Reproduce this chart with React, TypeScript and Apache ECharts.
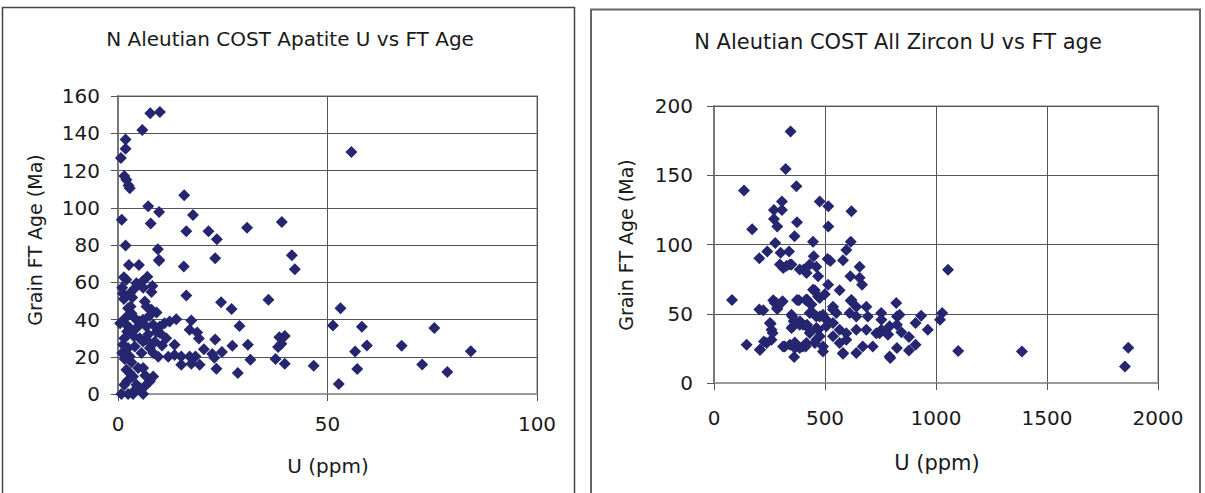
import React, { useEffect, useRef } from "react";
import * as echarts from "echarts";

// ---- Apatite: U (ppm) vs grain FT age (Ma)
const apatiteU = [
  7.7, 10.0, 5.8, 1.8, 1.8, 0.7, 1.5, 2.0, 2.5, 2.8, 15.8, 7.2, 9.8, 0.9, 7.8, 17.9, 16.3, 21.6, 23.6, 23.2,
  1.8, 9.5, 9.8, 15.7, 2.6, 5.0, 9.8, 16.3, 8.0,
  30.8, 39.1, 41.5, 42.2, 24.6, 27.1, 35.9, 53.1, 29.0, 51.3, 23.2, 27.3, 31.0, 38.5, 39.8, 39.0, 38.2,
  20.5, 22.5, 23.0, 24.8, 23.5, 28.6, 31.6, 37.6, 39.8, 46.7, 52.7, 55.7, 58.2, 75.5, 56.6, 59.4, 67.7,
  84.2, 57.1, 72.6, 78.6,
  1.4, 2.0, 4.4, 5.8, 1.2, 2.8, 4.0, 1.4, 3.4, 6.4, 6.8, 2.4, 3.2, 8.0, 9.2, 4.0, 5.2, 6.0, 2.0, 2.8,
  4.4, 6.8, 8.4, 10.0, 11.1, 12.3, 13.9, 17.5, 2.2, 9.2, 10.0, 17.1, 18.9, 5.2, 6.0, 6.8, 1.2, 2.4, 4.0,
  7.6, 8.4, 13.5, 13.5, 15.1, 17.1, 18.5, 15.1, 17.5, 19.5, 1.6, 2.8, 2.0, 2.8, 3.6, 6.0, 8.4, 7.6, 6.4,
  4.4, 5.2, 0.8, 2.4, 3.6, 6.0, 19.3,
  1.0, 3.0, 1.8, 3.8, 5.6, 4.8, 3.2, 7.2, 8.8, 9.6, 1.5, 6.5, 2.2, 4.0, 7.5, 10.5, 11.5, 12.0, 1.0, 6.0,
  7.0, 8.2, 0.5, 1.5,
];
const apatiteAge = [
  150.7, 151.4, 141.7, 136.7, 131.7, 126.7, 117, 115, 112, 110.5, 106.7, 100.8, 97.7, 93.5, 91.5, 96.1, 87.4, 87.4, 83.1, 72.9,
  79.7, 77.7, 72, 68.4, 69.2, 69.2, 71.5, 52.9, 54.7,
  89.3, 92.4, 74.5, 67, 49.3, 45.7, 50.6, 46.1, 36.5, 36.8, 29.3, 25.9, 26.4, 30.5, 31.2, 27, 25.2,
  24, 21.5, 19.5, 22.5, 13.6, 11.3, 18.4, 18.8, 16.2, 15.2, 5.4, 130, 36.1, 35.5, 22.8, 26.1, 25.9,
  23, 13.4, 15.9, 11.8,
  62.7, 61.3, 59.5, 60.4, 54, 54, 56.8, 51, 51.8, 49.7, 47, 46, 43.4, 45.2, 43.8, 40.7, 38.9, 39.8, 37.2, 35.4,
  35.4, 36.2, 37.2, 36.2, 38, 38.9, 40.2, 39.5, 33.6, 33.3, 32.7, 34.5, 33, 30, 28.2, 29.1, 26.4, 24.7, 25.5,
  24.7, 22, 26.4, 21, 20.2, 20.2, 20.2, 15.7, 16.2, 15.7, 18.8, 20.2, 13, 11.3, 9.4, 13.9, 9.4, 6.8, 4.1,
  5, 3.2, 0, 0, 0, 0, 29.8,
  57, 47, 41, 31, 22, 14, 17, 32, 28, 20, 30, 10, 7, 2, 42, 26, 30, 20, 22, 57,
  63, 58, 38, 5,
];

// ---- Zircon: U (ppm) vs grain FT age (Ma)
const zirconU = [
  345, 323, 135, 371, 476, 515, 619, 306, 270, 306, 270, 285, 374, 515, 172, 363, 276, 446, 616, 596,
  240, 204, 300, 338, 449, 512, 524, 581, 297, 312, 342, 404, 431, 461, 656, 417, 469, 614, 656, 667,
  514, 566, 454, 469, 499, 476, 81, 267, 279, 309, 374, 413, 428, 619, 641, 686, 204, 222, 285, 353,
  387, 446, 476, 506, 536, 551, 611, 641, 693, 753, 252, 259, 356, 401, 416, 469, 506, 536, 566, 596,
  641, 686, 731, 147, 207, 237, 259, 319, 364, 401, 416, 361, 461, 491, 476, 536, 566, 596, 581, 641,
  670, 715, 746, 783, 791, 821, 824, 824, 1054, 1028, 1018, 836, 933, 908, 963, 754, 754, 784, 844, 878,
  908, 878, 794, 1100, 1387, 1866, 1851, 327, 349, 386, 536, 616, 431, 461, 491, 791, 824, 491, 581,
  274, 304, 284, 383, 419, 439, 446, 349, 359, 386, 419, 349, 255, 264, 225, 207, 311, 342, 364, 386,
  413, 431, 461, 454,
];
const zirconAge = [
  181.5, 154.6, 139, 142, 131, 127.6, 124, 131, 125, 125, 118.5, 113, 116, 113, 111, 106, 101, 102, 102, 96,
  95, 90, 94, 95, 91.5, 89.6, 88, 88.6, 85.5, 83, 85.5, 82, 85.5, 84, 84, 79.5, 77, 77, 76, 71,
  71, 67, 67, 62.5, 64, 61.4, 60, 59.7, 58, 59, 60, 60, 58, 60, 55, 55, 53, 52.5, 53.5, 48,
  44.5, 50.6, 48, 45.7, 53, 50.6, 50.6, 48, 48, 50.6, 43.3, 38.5, 41, 42, 41, 38.5, 41, 43.3, 38.5, 36,
  38.5, 38.5, 36, 27.7, 24, 28.9, 31.3, 26.4, 25.3, 26.4, 28.9, 18.8, 31.3, 26.4, 33.7, 33.7, 28.9, 31.3, 21.2, 21.7,
  26.4, 26.4, 36, 35, 19.2, 57.8, 48.1, 25.3, 81.8, 50.6, 45.7, 49.3, 48.6, 43.3, 38.5, 45.7, 38.5, 35, 36.6, 33.2,
  27.7, 23.5, 18, 23.1, 22.8, 25.5, 12, 84.7, 85.5, 82, 55, 59.4, 50.6, 48, 49.3, 41, 42, 22.8, 21.7,
  57.8, 58.2, 54.2, 59.7, 60.2, 56.6, 67.4, 49.3, 44.5, 42.1, 42.1, 39.7, 42.8, 36.1, 30, 24, 26.4, 27.7, 29.3, 25.3,
  26.4, 36.1, 39.7, 28.9,
];

const leftTitle = "N Aleutian COST Apatite U vs FT Age";
const rightTitle = "N Aleutian COST All Zircon U vs FT age";
const yName = "Grain FT Age (Ma)";
const xName = "U (ppm)";

const FONT = "DejaVu Sans";
const MARK = "#25266f";

function pairs(xs: number[], ys: number[]) {
  return xs.map((x, i) => [x, ys[i]]);
}

function txt(x: number, y: number, text: string, size: number, rotation = 0) {
  return {
    type: "text",
    x,
    y,
    rotation,
    style: {
      text,
      fill: "#1a1a1a",
      font: `${size}px "${FONT}"`,
      align: "center",
      verticalAlign: "middle",
      textAlign: "center",
      textVerticalAlign: "middle",
    },
  };
}

const plain = (v: number) => String(v);

export default function App() {
  const ref = useRef<HTMLDivElement>(null);
  useEffect(() => {
    if (!ref.current) return;
    const chart = echarts.init(ref.current, undefined, { renderer: "svg" });
    const axisCommon = {
      axisLine: { show: true, lineStyle: { color: "#777", width: 2 } },
      axisTick: { show: true, inside: false, length: 7, lineStyle: { color: "#555", width: 1 } },
      splitLine: { show: true, lineStyle: { color: "#555", width: 1 } },
      axisLabel: { color: "#1a1a1a", fontFamily: FONT, fontSize: 20, formatter: plain },
    };
    chart.setOption({
      animation: false,
      backgroundColor: "#ffffff",
      grid: [
        { left: 118, top: 96, width: 419, height: 298, show: true, borderColor: "#b8b8b8", borderWidth: 2, containLabel: false },
        { left: 714, top: 106, width: 444, height: 277, show: true, borderColor: "#b8b8b8", borderWidth: 2, containLabel: false },
      ],
      xAxis: [
        {
          ...axisCommon,
          gridIndex: 0,
          type: "value",
          min: 0,
          max: 100,
          interval: 50,
          axisLine: { show: true, lineStyle: { color: "#999", width: 2 } },
          axisLabel: { ...axisCommon.axisLabel, margin: 20 },
        },
        {
          ...axisCommon,
          gridIndex: 1,
          type: "value",
          min: 0,
          max: 2000,
          interval: 500,
          axisLine: { show: true, lineStyle: { color: "#999", width: 2 } },
          axisLabel: { ...axisCommon.axisLabel, margin: 25 },
        },
      ],
      yAxis: [
        {
          ...axisCommon,
          gridIndex: 0,
          type: "value",
          min: 0,
          max: 160,
          interval: 20,
          axisLabel: { ...axisCommon.axisLabel, margin: 18 },
        },
        {
          ...axisCommon,
          gridIndex: 1,
          type: "value",
          min: 0,
          max: 200,
          interval: 50,
          axisLabel: { ...axisCommon.axisLabel, margin: 21 },
        },
      ],
      series: [
        {
          type: "scatter",
          xAxisIndex: 0,
          yAxisIndex: 0,
          symbol: "diamond",
          symbolSize: 12,
          itemStyle: { color: MARK, opacity: 1 },
          data: pairs(apatiteU, apatiteAge),
        },
        {
          type: "scatter",
          xAxisIndex: 1,
          yAxisIndex: 1,
          symbol: "diamond",
          symbolSize: 12,
          itemStyle: { color: MARK, opacity: 1 },
          data: pairs(zirconU, zirconAge),
        },
      ],
      graphic: [
        { type: "rect", shape: { x: 2.5, y: 7.5, width: 572, height: 520 }, style: { fill: "none", stroke: "#444", lineWidth: 1.5 }, z: -1 },
        { type: "rect", shape: { x: 591, y: 9.5, width: 609, height: 520 }, style: { fill: "none", stroke: "#666", lineWidth: 2 }, z: -1 },
        txt(290, 39, leftTitle, 20),
        txt(898, 42, rightTitle, 21),
        txt(328, 466, xName, 20),
        txt(937, 463, xName, 21),
        txt(35, 240, yName, 19, Math.PI / 2),
        txt(626, 245, yName, 19, Math.PI / 2),
      ],
    });
    return () => chart.dispose();
  }, []);
  return (
    <div
      ref={ref}
      style={{ position: "fixed", left: 0, top: 0, width: 1205, height: 493, background: "#fff" }}
    />
  );
}
